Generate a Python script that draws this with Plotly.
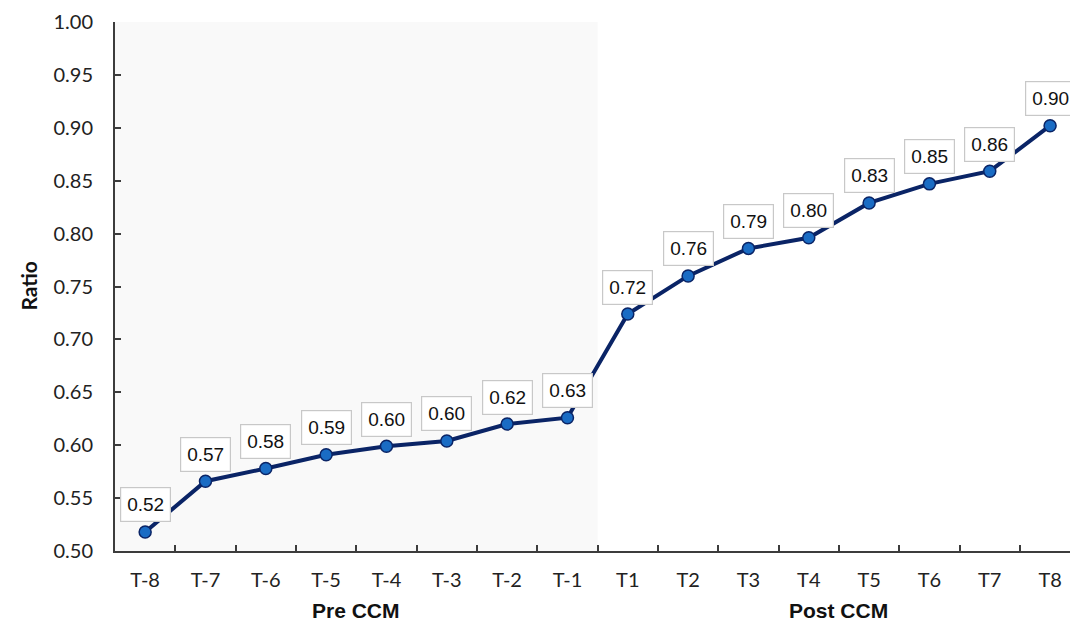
import plotly.graph_objects as go

# Ratio per period, before and after CCM
periods = ["T-8", "T-7", "T-6", "T-5", "T-4", "T-3", "T-2", "T-1",
           "T1", "T2", "T3", "T4", "T5", "T6", "T7", "T8"]
ratio = [0.518, 0.566, 0.578, 0.591, 0.599, 0.604, 0.620, 0.626,
         0.724, 0.760, 0.786, 0.796, 0.829, 0.847, 0.859, 0.902]
y_ticks = [0.50, 0.55, 0.60, 0.65, 0.70, 0.75, 0.80, 0.85, 0.90, 0.95, 1.00]

axis_color = "#3c3c3c"
tick_font = dict(family="Lato, Open Sans, sans-serif", size=20, color="#222222")

fig = go.Figure()

# light panel behind the pre-CCM periods
fig.add_shape(type="rect", xref="x", yref="y", x0=-0.5, x1=7.5, y0=0.5, y1=1.0,
              fillcolor="#f9f9f9", line=dict(width=0), layer="below")

fig.add_trace(go.Scatter(
    x=periods, y=ratio, mode="lines+markers",
    line=dict(color="#0a2466", width=4),
    marker=dict(size=12, color="#1a6cc4", line=dict(color="#0a2466", width=1.5)),
    hoverinfo="skip", cliponaxis=False,
))

# value boxes above each point
for p, v in zip(periods, ratio):
    fig.add_annotation(x=p, y=v, xref="x", yref="y", text=f"{v:.2f}",
                       showarrow=False, yshift=27,
                       font=dict(family="Arial, Liberation Sans, sans-serif", size=19, color="#111111"),
                       bgcolor="white", bordercolor="#c8c8c8", borderwidth=1.2, borderpad=6)

# group titles under the axis
for label, xc in [("Pre CCM", 3.5), ("Post CCM", 11.5)]:
    fig.add_annotation(x=xc, y=-(610 - 551) / 529, xref="x", yref="paper", text=f"<b>{label}</b>",
                       showarrow=False, xanchor="center", yanchor="middle",
                       font=dict(family="Liberation Sans Narrow, Arial Narrow, Liberation Sans, sans-serif",
                                 size=21, color="#111111"))

fig.add_annotation(x=-(115 - 28) / 955, y=0.5, xref="paper", yref="paper", text="<b>Ratio</b>",
                   showarrow=False, textangle=-90, xanchor="center", yanchor="middle",
                   font=dict(family="Lato, Open Sans, sans-serif", size=21, color="#111111"))

fig.update_xaxes(
    type="category", range=[-0.5, 15.33], tickson="boundaries",
    ticks="inside", ticklen=6, tickwidth=1.5, tickcolor=axis_color,
    showline=True, linecolor=axis_color, linewidth=2,
    showgrid=False, zeroline=False, tickfont=tick_font, ticklabelstandoff=10,
)
fig.update_yaxes(
    range=[0.5, 1.0], tickvals=y_ticks, ticktext=[f"{t:.2f}" for t in y_ticks],
    ticks="inside", ticklen=6, tickwidth=1.5, tickcolor=axis_color,
    showline=True, linecolor=axis_color, linewidth=2,
    showgrid=False, zeroline=False, tickfont=tick_font, ticklabelstandoff=16,
)

fig.update_layout(
    width=1070, height=623,
    margin=dict(l=115, r=0, t=22, b=72),
    paper_bgcolor="white", plot_bgcolor="white",
    showlegend=False,
)

fig.write_html("out.html")
